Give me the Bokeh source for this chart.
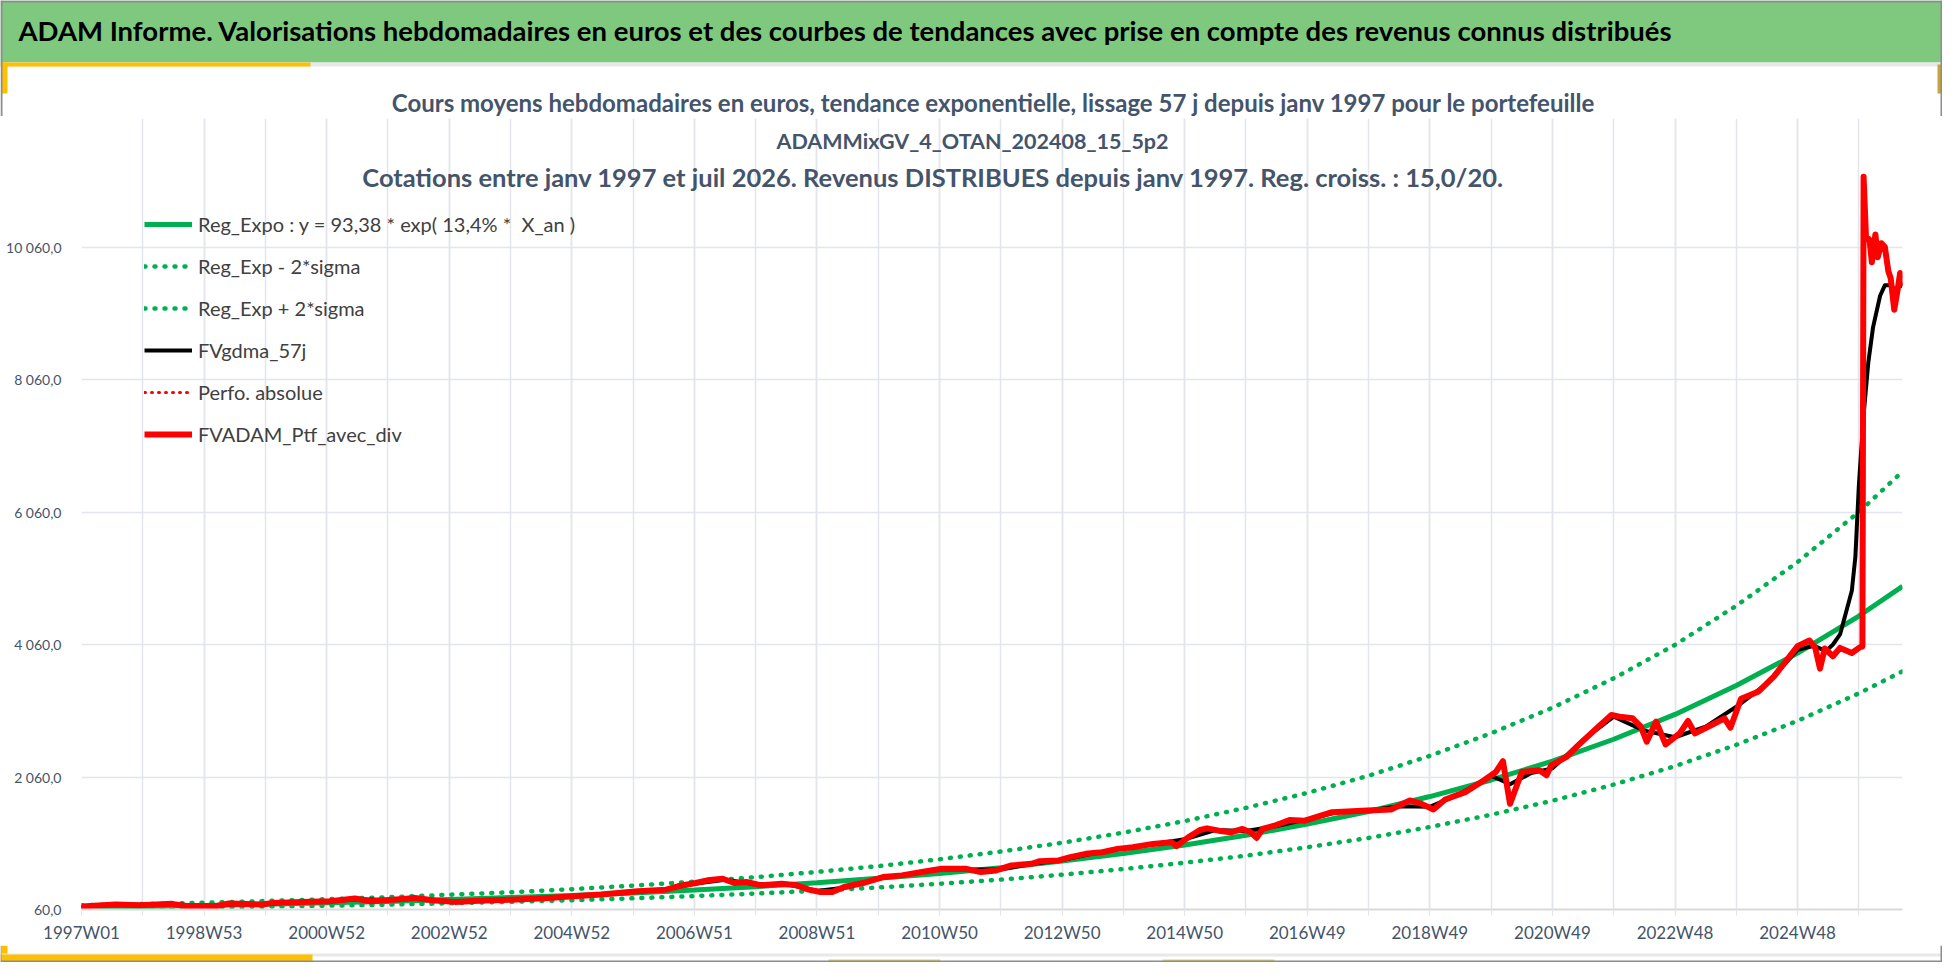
from bokeh.plotting import figure
from bokeh.layouts import column
from bokeh.models import Range1d, FixedTicker, Legend, LegendItem, Label, BoxAnnotation
from bokeh.embed import file_html
from bokeh.resources import INLINE

# ---------------- data ----------------
trend_weeks = [0, 52, 104, 156, 208, 260, 312, 364, 416, 468, 520, 572, 624, 676, 728, 780,
               832, 884, 936, 988, 1040, 1092, 1144, 1196, 1248, 1300, 1352, 1404, 1456, 1508, 1545]
reg_expo = [95, 105, 120, 140, 160, 180, 210, 240, 270, 310, 355, 405, 465, 530, 605, 690,
            790, 905, 1035, 1180, 1350, 1540, 1765, 2015, 2300, 2630, 3005, 3440, 3930, 4490, 4940]
reg_minus = [70, 78, 89, 104, 118, 133, 155, 178, 200, 229, 263, 300, 344, 392, 448, 511,
             585, 670, 766, 873, 999, 1140, 1306, 1491, 1702, 1946, 2224, 2546, 2908, 3323, 3656]
reg_plus = [125, 142, 162, 188, 215, 245, 283, 320, 367, 420, 480, 548, 627, 715, 818, 935,
            1068, 1220, 1395, 1595, 1820, 2080, 2380, 2720, 3105, 3550, 4055, 4645, 5305, 6060, 6670]

ptf_weeks = [0, 29, 50, 77, 88, 115, 125, 153, 163, 187, 211, 232, 245, 273, 283, 300, 317, 341,
             369, 396, 417, 441, 472, 496, 506, 521, 531, 544, 554, 564, 577, 594, 607, 617, 627,
             637, 647, 663, 680, 696, 713, 730, 750, 763, 776, 789, 806, 813, 829, 839, 852, 866,
             879, 892, 909, 925, 929, 939, 949, 955, 965, 975, 985, 992, 997, 1002, 1012, 1025,
             1038, 1061, 1091, 1111, 1127, 1137, 1147, 1157, 1174, 1190, 1200, 1206, 1212, 1222,
             1237, 1243, 1247, 1260, 1270, 1287, 1298, 1305, 1316, 1323, 1328, 1336, 1344, 1356,
             1363, 1369, 1383, 1394, 1399, 1408, 1423, 1436, 1446, 1456, 1466, 1471, 1475, 1479,
             1486, 1492, 1502, 1509, 1511, 1512, 1514, 1517, 1519, 1522, 1524, 1527, 1530, 1533,
             1535, 1538, 1541, 1543, 1545]
ptf_values = [105, 135, 125, 145, 112, 112, 150, 135, 160, 175, 185, 225, 185, 220, 235, 195, 175, 195,
              210, 235, 260, 285, 335, 360, 410, 460, 500, 525, 460, 475, 425, 450, 425, 360, 325,
              325, 400, 460, 550, 575, 625, 675, 675, 625, 650, 725, 750, 790, 800, 850, 900, 925,
              975, 1000, 1050, 1075, 1015, 1150, 1260, 1285, 1250, 1225, 1275, 1225, 1140, 1275, 1325, 1410,
              1400, 1529, 1554, 1569, 1706, 1655, 1569, 1721, 1832, 2010, 2136, 2298, 1655, 2136,
              2161, 2086, 2237, 2364, 2541, 2820, 2997, 2971, 2946, 2820, 2592, 2896, 2551, 2718,
              2906, 2718, 2845, 2946, 2804, 3240, 3351, 3579, 3807, 4035, 4121, 4009, 3695, 4000,
              3883, 4009, 3933, 4020, 4030, 11120, 10220, 10170, 9830, 10250, 9905, 10117, 10064, 9694,
              9588, 9112, 9430, 9668, 9480]

gdma_weeks = [0, 26, 52, 78, 104, 130, 156, 182, 208, 234, 260, 286, 312, 338, 364, 390, 416, 442,
              468, 494, 520, 546, 572, 598, 624, 650, 676, 702, 728, 754, 780, 806, 832, 858, 884,
              910, 936, 962, 988, 1014, 1040, 1066, 1092, 1118, 1144, 1170, 1196, 1212, 1230, 1248,
              1274, 1300, 1326, 1352, 1378, 1404, 1430, 1456, 1470, 1480, 1486, 1492, 1497, 1502,
              1505, 1508, 1512, 1516, 1520, 1526, 1530, 1536, 1538, 1543, 1545]
gdma_values = [100, 128, 130, 140, 118, 140, 142, 170, 182, 215, 205, 225, 185, 192, 207, 230, 258, 285,
               330, 360, 450, 510, 440, 445, 340, 395, 530, 590, 670, 665, 665, 745, 805, 905, 985,
               1050, 1120, 1260, 1245, 1320, 1420, 1530, 1555, 1620, 1610, 1810, 2080, 1950, 2120, 2190,
               2620, 2970, 2760, 2660, 2820, 3120, 3470, 3980, 4040, 3960, 4060, 4212, 4540, 4870,
               5380, 6470, 7525, 8318, 8847, 9324, 9482, 9482, 9400, 9482, 9470]

x_tick_weeks = [0, 104, 208, 312, 416, 520, 624, 728, 832, 936, 1040, 1144, 1248, 1352, 1456]
x_tick_labels = ["1997W01", "1998W53", "2000W52", "2002W52", "2004W52", "2006W51", "2008W51",
                 "2010W50", "2012W50", "2014W50", "2016W49", "2018W49", "2020W49", "2022W48", "2024W48"]
x_grid_weeks = [0, 52, 104, 156, 208, 260, 312, 364, 416, 468, 520, 572, 624, 676, 728, 780, 832,
                884, 936, 988, 1040, 1092, 1144, 1196, 1248, 1300, 1352, 1404, 1456, 1508]
y_ticks = [60, 2060, 4060, 6060, 8060, 10060]
y_tick_labels = ["60,0", "2 060,0", "4 060,0", "6 060,0", "8 060,0", "10 060,0"]

legend_labels = ["Reg_Expo : y = 93,38 * exp( 13,4% *  X_an )", "Reg_Exp - 2*sigma",
                 "Reg_Exp + 2*sigma", "FVgdma_57j", "Perfo. absolue", "FVADAM_Ptf_avec_div"]
header_text = ("ADAM Informe. Valorisations hebdomadaires en euros et des courbes de tendances "
               "avec prise en compte des revenus connus distribués")
subtitle_lines = [
    "Cours moyens hebdomadaires  en euros, tendance exponentielle, lissage 57 j depuis janv 1997 pour le portefeuille",
    "ADAMMixGV_4_OTAN_202408_15_5p2",
    "Cotations  entre janv 1997 et juil 2026. Revenus DISTRIBUES depuis  janv 1997. Reg. croiss. : 15,0/20.",
]

# ---------------- layout (canvas pixels) ----------------
W = 1942
H_HEAD, H_MAIN, H_FOOT = 116, 829, 17
Y_MAIN = H_HEAD                      # main figure starts at this canvas y
FL, FR = 81, 1902                    # frame left / right on canvas
FT = 118                             # frame top on canvas
FB = 900.5                           # expected frame bottom on canvas

FONT = "Lato"
AXCOL = "#44546A"
GRID = "#E2E5EB"
GREEN = "#00B050"
GOLD = "#FFC000"
BORDER = "#8C8C8C"


def bare_fig(h):
    f = figure(width=W, height=h, output_backend="svg", toolbar_location=None,
               x_range=Range1d(0, 1), y_range=Range1d(0, 1),
               x_axis_location=None, y_axis_location=None,
               min_border=0, min_border_left=0, min_border_right=0, min_border_top=0, min_border_bottom=0,
               background_fill_color="white", border_fill_color="white", outline_line_color=None)
    f.grid.visible = False
    f.frame_align = False
    return f


def box(f, h, x0, x1, y0, y1, color):
    """rectangle in a bare figure, given in that figure's pixels from its top-left"""
    f.add_layout(BoxAnnotation(left=x0, right=x1, top=h - y0, bottom=h - y1,
                               left_units="screen", right_units="screen",
                               top_units="screen", bottom_units="screen",
                               fill_color=color, fill_alpha=1, line_color=None, level="overlay"))


# ---- header ----
head = bare_fig(H_HEAD)
box(head, H_HEAD, 0, W, 0, 62, "#7FC97F")
box(head, H_HEAD, 0, W, 62, 66, "#E8E8E8")
box(head, H_HEAD, 0, 310, 62, 66, GOLD)
box(head, H_HEAD, 1, 7, 62, 93, GOLD)
box(head, H_HEAD, 1937, 1941, 64, 93, "#C9A43A")
box(head, H_HEAD, 0, 2, 0, H_HEAD, BORDER)
box(head, H_HEAD, W - 2, W, 0, H_HEAD, BORDER)
box(head, H_HEAD, 0, W, 0, 2, BORDER)
head.add_layout(Label(x=18, y=H_HEAD - 30, x_units="screen", y_units="screen", text=header_text,
                      text_align="left", text_baseline="middle", text_font=FONT, text_font_style="bold",
                      text_font_size="27.5px", text_color="black", level="overlay"))
head.add_layout(Label(x=996, y=H_HEAD - 102, x_units="screen", y_units="screen", text=subtitle_lines[0],
                      text_align="center", text_baseline="middle", text_font=FONT, text_font_style="bold",
                      text_font_size="24px", text_color=AXCOL, level="overlay"))

# ---- main chart ----
p = figure(width=W, height=H_MAIN, output_backend="svg", toolbar_location=None,
           x_range=Range1d(0, 1545), y_range=Range1d(60, 12000),
           min_border_left=FL, min_border_right=W - FR, min_border_top=FT - Y_MAIN,
           min_border_bottom=30,
           background_fill_color="white", border_fill_color="white", outline_line_color=None)
p.frame_align = False

p.xaxis.ticker = FixedTicker(ticks=x_tick_weeks, minor_ticks=x_grid_weeks)
p.xaxis.major_label_overrides = dict(zip(x_tick_weeks, x_tick_labels))
p.xaxis.axis_line_color = "#D9D9D9"
p.xaxis.axis_line_width = 2
p.xaxis.major_tick_line_color = GRID
p.xaxis.minor_tick_line_color = GRID
p.xaxis.major_tick_out = 6
p.xaxis.major_tick_in = 0
p.xaxis.minor_tick_out = 6
p.xaxis.minor_tick_in = 0
p.xaxis.major_label_standoff = 6
p.xaxis.major_label_text_font = FONT
p.xaxis.major_label_text_font_size = "17px"
p.xaxis.major_label_text_color = AXCOL

p.yaxis.ticker = FixedTicker(ticks=y_ticks)
p.yaxis.major_label_overrides = dict(zip(y_ticks, y_tick_labels))
p.yaxis.axis_line_color = None
p.yaxis.major_tick_line_color = None
p.yaxis.minor_tick_line_color = None
p.yaxis.major_label_standoff = 14
p.yaxis.major_label_text_font = FONT
p.yaxis.major_label_text_font_size = "14px"
p.yaxis.major_label_text_color = AXCOL

p.xgrid.grid_line_color = GRID
p.xgrid.minor_grid_line_color = GRID
p.xgrid.grid_line_width = 1.5
p.xgrid.minor_grid_line_width = 1.5
p.ygrid.grid_line_color = GRID
p.ygrid.grid_line_width = 1.5

r_exp = p.line(trend_weeks, reg_expo, line_color=GREEN, line_width=5)
r_lo = p.line(trend_weeks, reg_minus, line_color=GREEN, line_width=4.5, line_dash="1 9", line_cap="round")
r_hi = p.line(trend_weeks, reg_plus, line_color=GREEN, line_width=4.5, line_dash="1 9", line_cap="round")
r_gd = p.line(gdma_weeks, gdma_values, line_color="black", line_width=4, line_join="round")
r_pa = p.line(ptf_weeks, ptf_values, line_color="red", line_width=3, line_dash="1 6", line_cap="round")
r_pt = p.line(ptf_weeks, ptf_values, line_color="#FF0000", line_width=6, line_join="round")

legend = Legend(items=[LegendItem(label=lab, renderers=[r]) for lab, r in
                       zip(legend_labels, [r_exp, r_lo, r_hi, r_gd, r_pa, r_pt])],
                location=(63, 463), orientation="vertical", padding=0, margin=0, spacing=18,
                glyph_width=48, glyph_height=22, label_height=22, label_standoff=6,
                label_text_font=FONT, label_text_font_size="20px", label_text_color="#404040",
                border_line_color=None, background_fill_alpha=0)
p.add_layout(legend)

for t, sx, sy, fs in zip(subtitle_lines[1:], [972, 939], [132, 168], ["21.5px", "25.5px"]):
    p.add_layout(Label(x=sx - FL, y=FB - sy, x_units="screen", y_units="screen", text=t,
                       text_align="center", text_baseline="middle", text_font=FONT,
                       text_font_style="bold", text_font_size=fs, text_color=AXCOL, level="overlay"))

# ---- footer decorations ----
foot = bare_fig(H_FOOT)
box(foot, H_FOOT, 1, 7, 0, 16, GOLD)
box(foot, H_FOOT, 0, W, 8, 11, "#E8E8E8")
box(foot, H_FOOT, 0, 312, 9, 16, GOLD)
box(foot, H_FOOT, 828, 940, 14, 17, "#DCD26A")
box(foot, H_FOOT, 1162, 1274, 14, 17, "#DCD26A")
box(foot, H_FOOT, 0, 1, 0, H_FOOT, BORDER)
box(foot, H_FOOT, W - 2, W, 0, H_FOOT, BORDER)
box(foot, H_FOOT, 0, W, H_FOOT - 2, H_FOOT, BORDER)

page = column(head, p, foot, spacing=0)

open("out.html", "w").write(file_html(page, INLINE))
